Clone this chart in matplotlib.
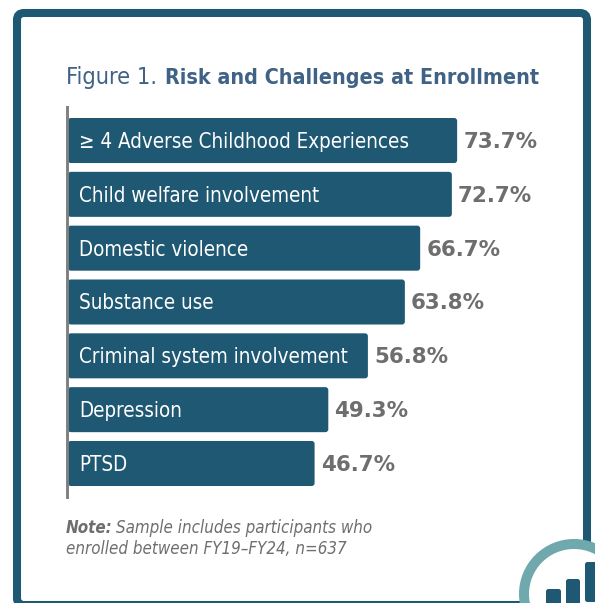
import matplotlib
matplotlib.use("Agg")
import matplotlib.pyplot as plt
from matplotlib.patches import FancyBboxPatch, Circle

categories = ["≥ 4 Adverse Childhood Experiences", "Child welfare involvement", "Domestic violence",
              "Substance use", "Criminal system involvement", "Depression", "PTSD"]
values = [73.7, 72.7, 66.7, 63.8, 56.8, 49.3, 46.7]
title_regular = "Figure 1."
title_bold = "Risk and Challenges at Enrollment"
note_bold = "Note:"
note_line1 = "Sample includes participants who"
note_line2 = "enrolled between FY19–FY24, n=637"

W, H = 595, 603
NAVY = "#1F5873"
TEAL = "#6FA8AD"
GREY = "#6E6E6E"
AXIS = "#7F7F7F"
TITLE = "#3F6285"
FONT = {"family": "DejaVu Sans", "stretch": "condensed"}

fig = plt.figure(figsize=(W / 100, H / 100), dpi=100, facecolor="white")

# full-figure pixel overlay for the card
bg = fig.add_axes([0, 0, 1, 1], zorder=0)
bg.set_xlim(0, W); bg.set_ylim(H, 0); bg.axis("off")
bg.add_patch(FancyBboxPatch((17, 13), 570, 592, boxstyle="round,pad=0,rounding_size=7",
                            fc="white", ec=NAVY, lw=5.8))
# badge
bg.add_patch(Circle((574, 594), 50, fc="white", ec=TEAL, lw=7.2, zorder=3))
for x0, x1, top in [(546, 561, 589), (566, 580, 579), (585, 600, 562)]:
    bg.add_patch(FancyBboxPatch((x0, top), x1 - x0, 40, boxstyle="round,pad=0,rounding_size=2.5",
                                fc=NAVY, ec="none", zorder=4))

bg.text(66, 77.5, title_regular, color=TITLE, fontsize=16.9, va="center", ha="left", **FONT)
bg.text(165, 77.5, title_bold, color=TITLE, fontsize=15.4, fontweight="bold", va="center", ha="left", **FONT)
bg.text(66, 528, note_bold, color=GREY, fontsize=12.2, style="italic", fontweight="bold", va="center", **FONT)
bg.text(116, 528, note_line1, color=GREY, fontsize=12.2, style="italic", va="center", **FONT)
bg.text(66, 549, note_line2, color=GREY, fontsize=12.2, style="italic", va="center", **FONT)

# chart axes: 68..595 px in x, 107..497 px in y
left, right, top, bottom = 68, 595, 107, 497
ax = fig.add_axes([left / W, 1 - bottom / H, (right - left) / W, (bottom - top) / H], zorder=2)
ax.patch.set_alpha(0)
px_per_unit = 5.28
pitch = 53.8
ax.set_xlim(0, (right - left) / px_per_unit)
ax.set_ylim(6 + (497 - 463.5) / pitch, -(140.5 - 107) / pitch)
bar_h = 45 / pitch
bars = ax.barh(range(len(values)), values, height=bar_h, color="none", edgecolor="none")
rounding = 0.55
aspect = (rounding * px_per_unit / pitch) / rounding
for b, cat, v in zip(bars, categories, values):
    ax.add_patch(FancyBboxPatch((b.get_x(), b.get_y()), b.get_width(), b.get_height(),
                                boxstyle=f"round,pad=0,rounding_size={rounding}",
                                mutation_aspect=aspect, fc=NAVY, ec="none", clip_on=False))
    yc = b.get_y() + b.get_height() / 2
    ax.annotate(cat, (0, yc), xytext=(8, -1), textcoords="offset points", color="white",
                fontsize=14.8, va="center", ha="left", **FONT)
    ax.annotate(f"{v}%", (v, yc), xytext=(4.5, -1), textcoords="offset points", color=GREY,
                fontsize=15.4, fontweight="bold", va="center", ha="left", family="DejaVu Sans")
ax.set_xticks([]); ax.set_yticks([])
for s in ("top", "right", "bottom"):
    ax.spines[s].set_visible(False)
ax.spines["left"].set_color(AXIS)
ax.spines["left"].set_linewidth(2.1)
ax.spines["left"].set_position(("outward", 0.7))

fig.savefig("out.png", dpi=100, facecolor="white")
